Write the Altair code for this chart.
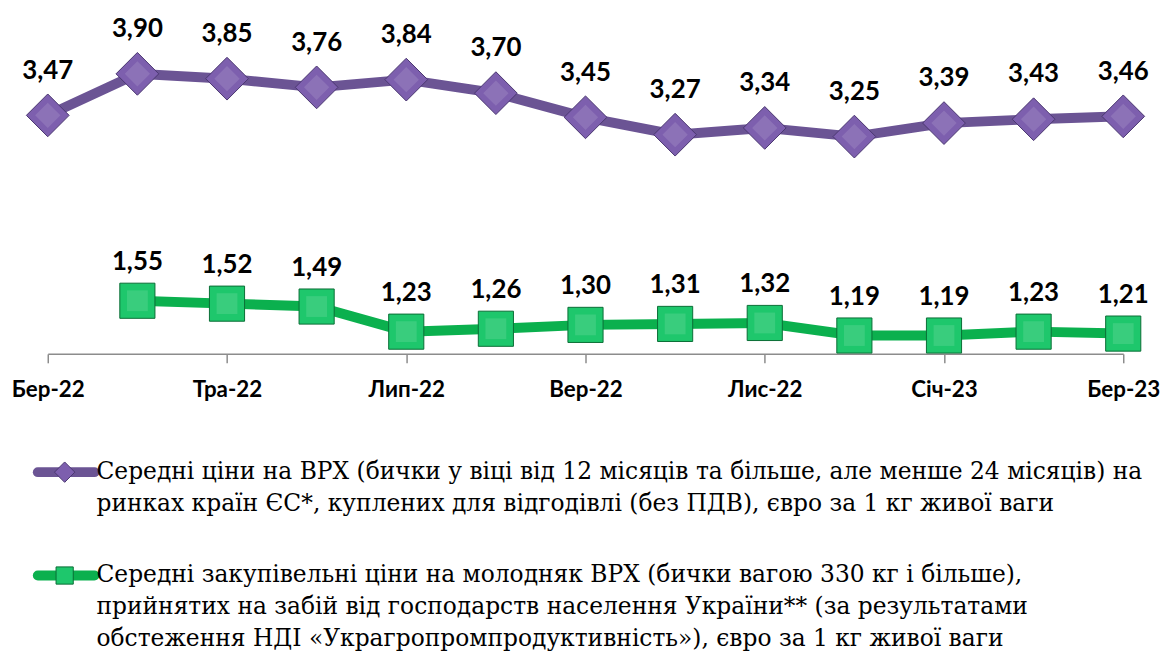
import altair as alt
import pandas as pd

months = ["Бер-22", "Кві-22", "Тра-22", "Чер-22", "Лип-22", "Сер-22", "Вер-22",
          "Жов-22", "Лис-22", "Гру-22", "Січ-23", "Лют-23", "Бер-23"]
tick_months = ["Бер-22", "Тра-22", "Лип-22", "Вер-22", "Лис-22", "Січ-23", "Бер-23"]
eu_prices = [3.47, 3.90, 3.85, 3.76, 3.84, 3.70, 3.45, 3.27, 3.34, 3.25, 3.39, 3.43, 3.46]
ua_prices = [None, 1.55, 1.52, 1.49, 1.23, 1.26, 1.30, 1.31, 1.32, 1.19, 1.19, 1.23, 1.21]

legend_eu = ["Середні ціни на ВРХ (бички у віці від 12 місяців та більше, але менше 24 місяців) на",
             "ринках країн ЄС*, куплених для відгодівлі (без ПДВ), євро за 1 кг живої ваги"]
legend_ua = ["Середні закупівельні ціни на молодняк ВРХ (бички вагою 330 кг і більше),",
             "прийнятих на забій від господарств населення України** (за результатами",
             "обстеження НДІ «Украгропромпродуктивність»), євро за 1 кг живої ваги"]

PURPLE_LINE = "#6b5494"
PURPLE_FILL = "#7d5fae"
PURPLE_EDGE = "#4a3670"
GREEN_LINE = "#0bb04e"
GREEN_FILL = "#1ec76c"
GREEN_EDGE = "#0a6e35"

eu_df = pd.DataFrame({"month": months, "value": eu_prices})
ua_df = pd.DataFrame({"month": months, "value": ua_prices}).dropna()

W, H = 1082, 340
x_enc = alt.X("month:N", sort=months,
              scale=alt.Scale(type="point", padding=0),
              axis=alt.Axis(values=tick_months, labelAngle=0, title=None,
                            labelFont="Lato", labelFontWeight="bold", labelFontSize=22.5,
                            labelColor="#000000", domainColor="#8c8c8c", domainWidth=1.5,
                            tickColor="#8c8c8c", tickWidth=1.5, tickSize=9,
                            labelPadding=16, grid=False))
y_scale = alt.Scale(domain=[1.0, 4.5], nice=False, zero=False)
y_enc = alt.Y("value:Q", scale=y_scale, axis=None)


def series(df, line_color, fill, edge, shape, size, dy):
    base = alt.Chart(df).encode(x=x_enc, y=y_enc)
    line = base.mark_line(color=line_color, strokeWidth=10)
    pts = base.mark_point(shape=shape, size=size, filled=True, fill=fill,
                          stroke=edge, strokeWidth=1, opacity=1)
    hi = base.mark_point(shape=shape, size=size * 0.35, filled=True, fill="#ffffff",
                         opacity=0.12)
    lbl = base.transform_calculate(
        lab="replace(format(datum.value, '.2f'), '.', ',')"
    ).mark_text(font="Lato", fontWeight="bold", fontSize=26, dy=dy,
                color="#000000").encode(text="lab:N")
    return [line, pts, hi, lbl]


leg_src = pd.DataFrame({"k": [0]})
def legend_item(y0, color, fill, edge, shape, size, lines):
    b = alt.Chart(leg_src)
    ln = b.mark_rule(color=color, strokeWidth=10, strokeCap="round").encode(
        x=alt.value(-10), x2=alt.value(47), y=alt.value(y0))
    sym = b.mark_point(shape=shape, size=size, filled=True, fill=fill, stroke=edge,
                       strokeWidth=1, opacity=1).encode(x=alt.value(17), y=alt.value(y0))
    out = [ln, sym]
    for i, t in enumerate(lines):
        out.append(b.mark_text(font="DejaVu Serif", fontSize=23.5, align="left",
                               baseline="middle", color="#000000").encode(
            x=alt.value(49), y=alt.value(y0 + i * 32), text=alt.value(t)))
    return out

layers = legend_item(459, PURPLE_LINE, PURPLE_FILL, PURPLE_EDGE, "diamond", 420, legend_eu)
layers += legend_item(563, GREEN_LINE, GREEN_FILL, GREEN_EDGE, "square", 300, legend_ua)
layers += series(eu_df, PURPLE_LINE, PURPLE_FILL, PURPLE_EDGE, "diamond", 1850, -45)
layers += series(ua_df, GREEN_LINE, GREEN_FILL, GREEN_EDGE, "square", 1250, -39)

chart = alt.layer(*layers).properties(
    width=W, height=H,
    padding={"left": 40, "top": 6, "right": 40, "bottom": 300},
    autosize=alt.AutoSizeParams(type="none"),
    background="#ffffff",
).configure_view(strokeWidth=0)

chart.save("out.html", embed_options={"renderer": "svg", "actions": False})
